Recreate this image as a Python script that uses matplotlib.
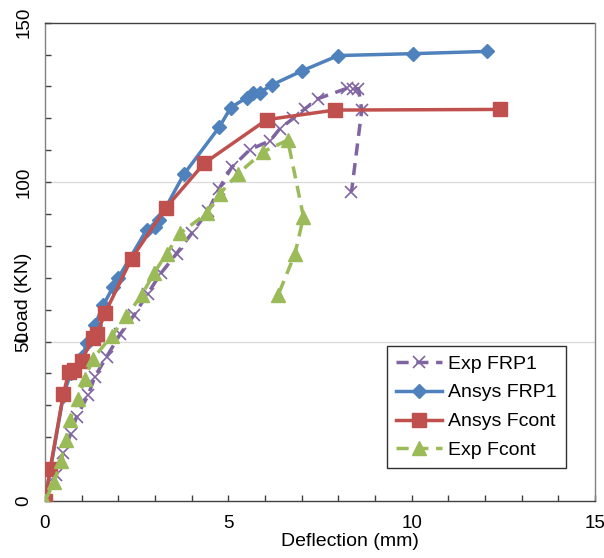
import matplotlib
matplotlib.use("Agg")
import matplotlib.pyplot as plt
from matplotlib.ticker import MultipleLocator

plt.rcParams['font.family'] = ['Liberation Sans', 'DejaVu Sans']

# Exp FRP1 (purple, dashed, x markers)
exp_frp1_x = [0, 0.3, 0.5, 0.7, 0.86, 1.18, 1.36, 1.68, 2.05, 2.43, 2.8, 3.16, 3.59, 4.0,
              4.45, 4.75, 5.09, 5.59, 6.14, 6.41, 6.77, 7.09, 7.45, 8.23, 8.41, 8.55, 8.64, 8.36]
exp_frp1_y = [0, 8, 15, 21, 26.4, 33.2, 39, 45.2, 52.3, 58.3, 65, 71.4, 77.6, 83.9,
              91, 98, 104.6, 110.2, 113, 116.8, 120, 123, 126.2, 129.4, 129.3, 129.3, 122.6, 97]

# Ansys FRP1 (blue, solid, diamonds)
ansys_frp1_x = [0, 0.15, 0.5, 0.7, 1.0, 1.14, 1.36, 1.59, 1.86, 2.0, 2.77, 3.0, 3.1,
                3.79, 4.75, 5.07, 5.5, 5.68, 5.86, 6.19, 7.01, 8.0, 10.05, 12.05]
ansys_frp1_y = [0, 10, 33, 40, 45, 49.4, 55.2, 61.4, 67.2, 70, 85, 86, 88,
                102.5, 117.2, 123.4, 126.5, 127.8, 128.1, 130.5, 134.9, 139.7, 140.3, 141]

# Ansys Fcont (red, solid, squares)
ansys_fcont_x = [0, 0.14, 0.5, 0.65, 0.8, 1.0, 1.3, 1.42, 1.64, 2.36, 3.3, 4.35, 6.05, 7.9, 12.4]
ansys_fcont_y = [0, 10, 33.5, 40.5, 41, 44, 51, 52.5, 59, 76, 92, 106, 119.6, 122.6, 122.8]

# Exp Fcont (green, dashed, triangles)
exp_fcont_x = [0, 0.25, 0.43, 0.57, 0.68, 0.9, 1.09, 1.3, 1.82, 2.22, 2.64, 2.97, 3.32, 3.68,
               4.41, 4.77, 5.27, 5.95, 6.62, 7.05, 6.82, 6.36]
exp_fcont_y = [0, 6, 12.5, 19, 25.4, 32, 38.3, 44.5, 51.8, 58, 64.6, 71.4, 77.6, 83.9,
               90.2, 96.4, 102.7, 109.5, 113.2, 89.1, 77.6, 64.6]

x_ticks = [0, 5, 10, 15]
y_ticks = [0, 50, 100, 150]

fig = plt.figure(figsize=(6.04, 5.58), dpi=100)
ax = fig.add_axes([0.0745, 0.1022, 0.9105, 0.8571])

ax.plot(exp_frp1_x, exp_frp1_y, color='#8064A2', lw=2.5, ls=(0, (3.5, 2.2)),
        marker='x', ms=9, mew=1.2, label='Exp FRP1', zorder=3)
ax.plot(ansys_frp1_x, ansys_frp1_y, color='#4F81BD', lw=2.5, marker='D', ms=7.5,
        label='Ansys FRP1', zorder=4)
ax.plot(ansys_fcont_x, ansys_fcont_y, color='#C0504D', lw=2.5, marker='s', ms=9.5,
        label='Ansys Fcont', zorder=5)
ax.plot(exp_fcont_x, exp_fcont_y, color='#9BBB59', lw=2.5, ls=(0, (3.5, 2.2)),
        marker='^', ms=10, label='Exp Fcont', zorder=6)

ax.set_xlim(0, 15)
ax.set_ylim(0, 150)
ax.set_xticks(x_ticks)
ax.set_yticks(y_ticks)
ax.xaxis.set_minor_locator(MultipleLocator(1))
ax.yaxis.set_minor_locator(MultipleLocator(10))
ax.tick_params(which='both', direction='in', length=4, width=1, color='#404040',
               labelsize=13.5)
ax.tick_params(axis='x', pad=10)
ax.tick_params(axis='y', pad=9)
for lab in ax.get_yticklabels():
    lab.set_rotation(90)
    lab.set_va('center')

for y in [50, 100]:
    ax.axhline(y, color='#D9D9D9', lw=0.9, zorder=1)

ax.spines['top'].set_linestyle((0, (1, 1)))
ax.spines['top'].set_color('#404040')
ax.spines['right'].set_color('#808080')
ax.spines['left'].set_color('#808080')
ax.spines['bottom'].set_color('#404040')
for s in ax.spines.values():
    s.set_linewidth(1)

ax.set_xlabel('Deflection (mm)', fontsize=14)
ax.set_ylabel('Load (KN)', fontsize=14)
ax.xaxis.set_label_coords(0.5545, -0.067)
ax.yaxis.set_label_coords(-0.024, 0.425)

leg = ax.legend(loc='lower left', bbox_to_anchor=(0.622, 0.069), fontsize=14,
                frameon=True, fancybox=False, framealpha=1, edgecolor='#303030',
                handlelength=2.4, handletextpad=0.3, borderpad=0.45, labelspacing=0.58,
                borderaxespad=0)
leg.get_frame().set_linewidth(1)

fig.savefig('out.png', dpi=100)
